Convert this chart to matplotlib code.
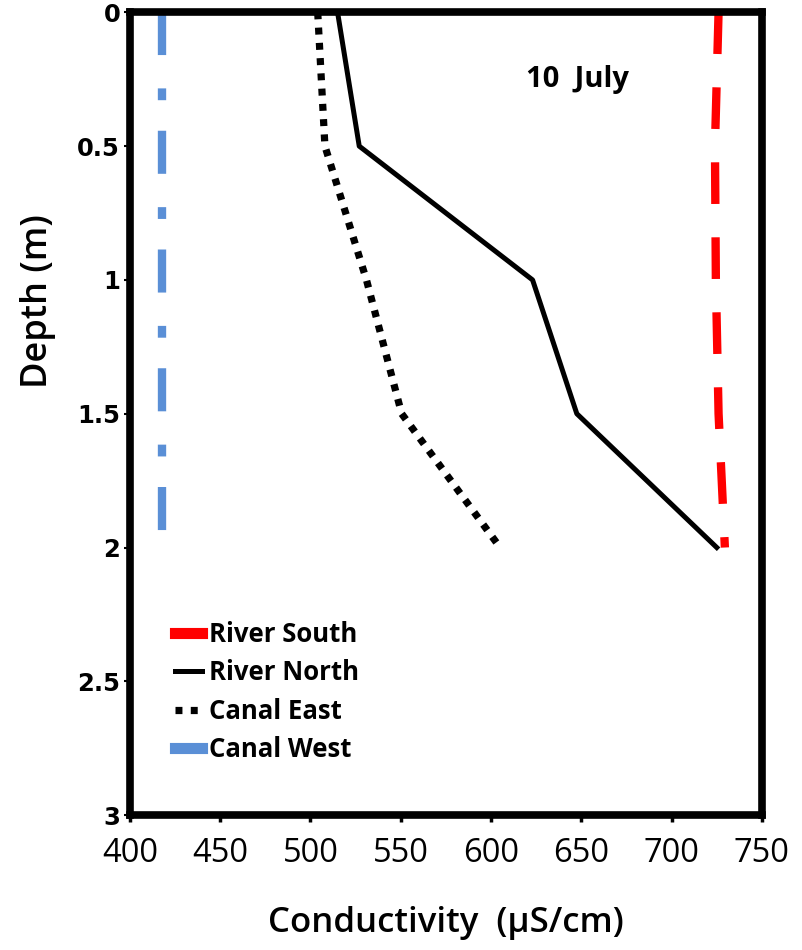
import matplotlib
matplotlib.use("Agg")
import matplotlib.pyplot as plt
from matplotlib.lines import Line2D

plt.rcParams["lines.scale_dashes"] = False

depth = [0, 0.5, 1, 1.5, 2]
river_south = [726, 724, 724.5, 726, 729.5]
river_north = [515, 527, 623, 647.5, 725]
canal_east = [504, 508, 531, 550.5, 605]
canal_west = [418, 418, 418, 418, 418]

x_ticks = [400, 450, 500, 550, 600, 650, 700, 750]
y_ticks = [0, 0.5, 1, 1.5, 2, 2.5, 3]
y_tick_labels = ["0", "0.5", "1", "1.5", "2", "2.5", "3"]

sans = "Open Sans"

fig = plt.figure(figsize=(8.02, 9.5), dpi=100)
ax = fig.add_axes([0.162, 0.142, 0.788, 0.845])

ax.plot(river_south, depth, color="#ff0000", linewidth=6,
        dashes=(30, 24), solid_capstyle="butt", dash_capstyle="butt",
        label="River South")
ax.plot(river_north, depth, color="black", linewidth=3.6,
        label="River North")
ax.plot(canal_east, depth, color="black", linewidth=5.2,
        dashes=(5, 6), dash_capstyle="butt", label="Canal East")
ax.plot(canal_west, depth, color="#5a8fd6", linewidth=6,
        dashes=(31, 24, 8.5, 22), dash_capstyle="butt", label="Canal West")

ax.set_xlim(400, 750)
ax.set_ylim(3, 0)

for s in ax.spines.values():
    s.set_linewidth(5.5)
    s.set_color("black")

ax.set_xticks(x_ticks)
ax.set_xticklabels([str(v) for v in x_ticks], family=sans, fontsize=23.5)
ax.set_yticks(y_ticks)
ax.set_yticklabels(y_tick_labels, family="DejaVu Sans", fontweight="bold",
                   fontsize=17.5)
ax.tick_params(axis="x", direction="out", length=5, width=2.5, pad=11)
ax.tick_params(axis="y", direction="out", length=4, width=1.5, pad=3)

ax.set_xlabel("Conductivity  (µS/cm)", family=sans, fontsize=25,
              fontweight=600, labelpad=26)
ax.set_ylabel("Depth (m)", family=sans, fontsize=26, fontweight=600)
ax.yaxis.set_label_coords(-0.117, 0.64)

ax.text(648, 0.25, "10  July", family=sans, fontweight="bold",
        fontsize=21, ha="center", va="center")

handles = [
    Line2D([], [], color="#ff0000", linewidth=8),
    Line2D([], [], color="black", linewidth=3.6),
    Line2D([], [], color="black", linewidth=5.2, dashes=(5, 6),
           dash_capstyle="butt"),
    Line2D([], [], color="#5a8fd6", linewidth=8),
]
labels = ["River South", "River North", "Canal East", "Canal West"]
leg = ax.legend(handles, labels, loc="upper left",
                bbox_to_anchor=(0.035, 0.271), frameon=False,
                handlelength=1.05, handletextpad=0.25, labelspacing=0.45,
                prop={"family": sans, "weight": "bold", "size": 18.5})

fig.savefig("out.png", dpi=100)
